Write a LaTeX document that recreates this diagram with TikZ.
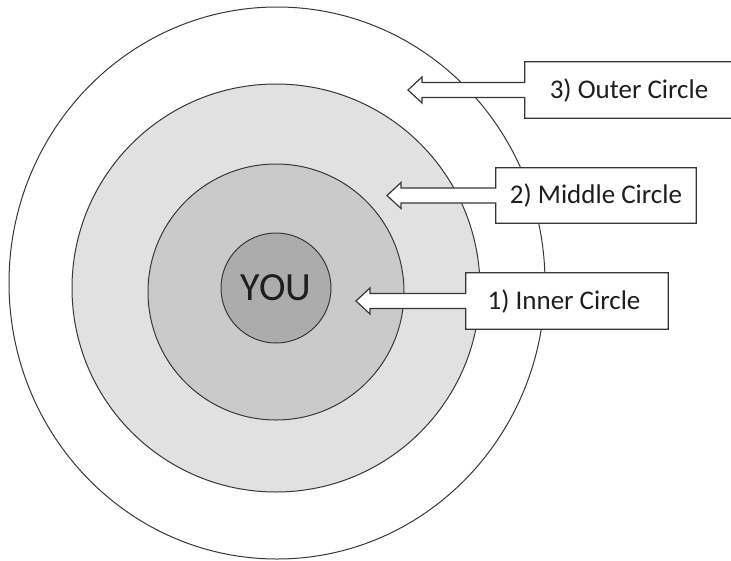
\documentclass[tikz,border=0pt]{standalone}
\usepackage{fontspec}
\setmainfont{Carlito}
\usetikzlibrary{shapes.geometric,calc}
\definecolor{ringline}{RGB}{55,55,55}
\definecolor{youfill}{RGB}{172,172,172}
\definecolor{innerfill}{RGB}{202,202,202}
\definecolor{midfill}{RGB}{225,225,225}
\definecolor{txt}{RGB}{30,30,30}
\tikzset{
  ring/.style={draw=ringline, line width=1pt, inner sep=0pt, outer sep=0pt},
  labeltext/.style={inner sep=0pt, outer sep=0pt, text=txt, font=\fontsize{27}{32}\selectfont},
  callout/.style={draw=ringline, fill=white, line width=1.2pt, line join=miter},
}
\newcommand{\calloutpath}[2]{%
  \path[callout] (#1.north west) -- (#1.north east) -- (#1.south east) -- (#1.south west)
    -- ($(#1.west)+(0,7.5)$) -- ($(#2)+(14,7.5)$) -- ($(#2)+(14,13)$) -- (#2)
    -- ($(#2)+(14,-13)$) -- ($(#2)+(14,-7.5)$) -- ($(#1.west)+(0,-7.5)$) -- cycle;}
\begin{document}
\begin{tikzpicture}[x=1pt,y=-1pt]
\useasboundingbox (0,0) rectangle (731,560);
\clip (0,0) rectangle (731,560);
\fill[white] (0,0) rectangle (731,560);
% rings
\node[ring, ellipse, fill=white, minimum width=536pt, minimum height=552pt] (outer) at (277,283) {};
\node[ring, circle, fill=midfill, minimum size=408pt] (middle) at (276,288) {};
\node[ring, circle, fill=innerfill, minimum size=256pt] (inner) at (276,292) {};
\node[ring, circle, fill=youfill, minimum size=110pt, text=txt, font=\fontsize{40}{48}\selectfont] (you) at (276,288) {YOU};
% callout boxes
\node[minimum width=209pt, minimum height=56pt, inner sep=0pt] (b3) at (629.5,90) {};
\node[minimum width=200pt, minimum height=55pt, inner sep=0pt] (b2) at (596,195.5) {};
\node[minimum width=202pt, minimum height=56pt, inner sep=0pt] (b1) at (567,301) {};
\coordinate (t3) at (408,90);
\coordinate (t2) at (387,195.5);
\coordinate (t1) at (356,301);
\calloutpath{b3}{t3}
\calloutpath{b2}{t2}
\calloutpath{b1}{t1}
\node[labeltext] (l3) at (629,90) {3) Outer Circle};
\node[labeltext] (l2) at (596,195.5) {2) Middle Circle};
\node[labeltext] (l1) at (564,301) {1) Inner Circle};
\end{tikzpicture}
\end{document}
